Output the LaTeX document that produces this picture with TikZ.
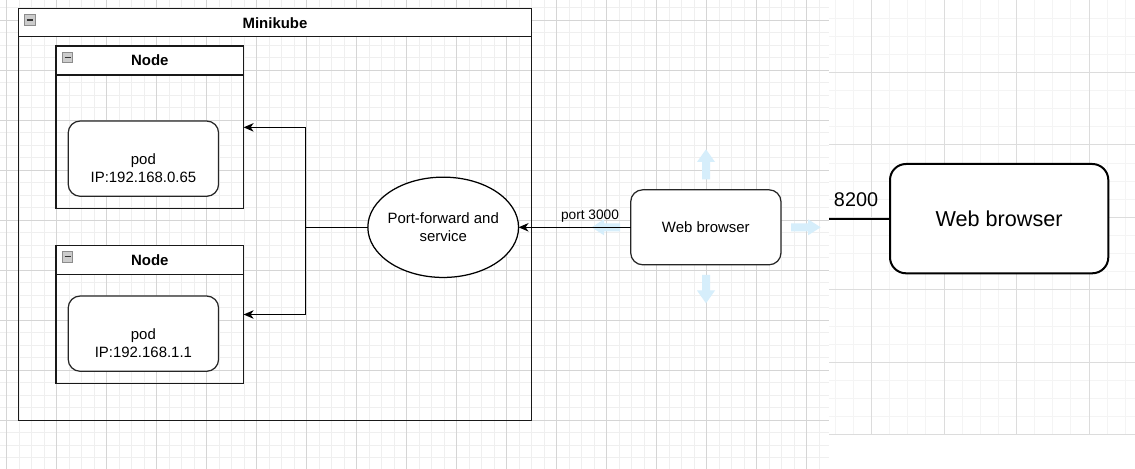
\documentclass[tikz,border=0pt]{standalone}
\usepackage{fontspec}
\setmainfont{Liberation Sans}
\usetikzlibrary{arrows.meta,shapes.geometric}
\definecolor{minorgrid}{HTML}{EFEFEF}
\definecolor{majorgrid}{HTML}{D5D5D5}
\definecolor{rminorgrid}{HTML}{F4F4F4}
\definecolor{rmajorgrid}{HTML}{DCDCDC}
\definecolor{hoverblue}{HTML}{D6EEFB}
\begin{document}
\begin{tikzpicture}[x=1bp,y=-1bp,
  every node/.style={font=\fontsize{15}{17.5}\selectfont, inner sep=0pt, outer sep=0pt},
  lane/.style={draw=black!90, line width=1.4bp, anchor=north west},
  lanehdr/.style={draw=black!90, fill=white, line width=1.4bp, anchor=north west, font=\fontsize{15}{17.5}\selectfont\bfseries},
  podbox/.style={draw=black!85, fill=white, rounded corners=12bp, line width=1.25bp, anchor=north west},
  wbsmall/.style={draw=black!85, fill=white, rounded corners=12bp, line width=1.25bp},
  wbbig/.style={draw=black, fill=white, rounded corners=16bp, line width=2bp, font=\fontsize{21.7}{25}\selectfont},
  conn/.style={draw=black, line width=1.2bp, -{Stealth[length=10bp,width=8.5bp,inset=3bp]}},
  hover/.style={fill=hoverblue, draw=none},
  icon/.style={draw=black!45, fill=black!20, line width=0.8bp},
]
\useasboundingbox (0,0) rectangle (1135,469);
\fill[white] (0,0) rectangle (1135,469);
% left grid
\draw[minorgrid, line width=1bp] \foreach \i in {0,...,65} {(6.7+12.5*\i,0) -- (6.7+12.5*\i,469)};
\draw[minorgrid, line width=1bp] \foreach \i in {0,...,36} {(0,7.8+12.5*\i) -- (829,7.8+12.5*\i)};
\draw[majorgrid, line width=1bp] \foreach \i in {0,...,16} {(6.7+50*\i,0) -- (6.7+50*\i,469)};
\draw[majorgrid, line width=1bp] \foreach \i in {0,...,8} {(0,20.3+50*\i) -- (829,20.3+50*\i)};
% right grid
\fill[white] (829,0) rectangle (1135,469);
\draw[rminorgrid, line width=1bp] \foreach \i in {-2,...,14} {(871.5+18.125*\i,0) -- (871.5+18.125*\i,435.5)};
\draw[rminorgrid, line width=1bp] \foreach \i in {0,...,24} {(829,18.125*\i) -- (1135,18.125*\i)};
\draw[rmajorgrid, line width=1bp] \foreach \i in {0,...,3} {(871.5+72.5*\i,0) -- (871.5+72.5*\i,435.5)};
\draw[rmajorgrid, line width=1bp] \foreach \i in {0,...,6} {(829,72.5*\i) -- (1135,72.5*\i)};

% Minikube container
\node[lane, minimum width=512.8bp, minimum height=412bp] (mk) at (18.6,8.7) {};
\node[lanehdr, minimum width=512.8bp, minimum height=28bp] (mkh) at (18.6,8.7) {Minikube};
\draw[icon] (24,14) rectangle (35.7,25.7);
\draw[black!80, line width=1.4bp] (26.5,19.9) -- (33.2,19.9);

% Node 1
\node[lane, fill=none, minimum width=187.6bp, minimum height=162.7bp] (n1) at (56,46) {};
\node[lanehdr, minimum width=187.6bp, minimum height=29bp] (n1h) at (56,46) {Node};
\draw[icon] (62.3,52.3) rectangle (72.7,62.7);
\draw[black!80, line width=1.4bp] (64.5,57.5) -- (70.5,57.5);
\node[podbox, minimum width=150.4bp, minimum height=75.3bp] (pod1) at (68.2,121) {};
\node[align=center] (pod1t) at ([yshift=-9.3bp]pod1.center) {pod\\IP:192.168.0.65};

% Node 2
\node[lane, fill=none, minimum width=187.6bp, minimum height=138.4bp] (n2) at (56,245.3) {};
\node[lanehdr, minimum width=187.6bp, minimum height=29bp] (n2h) at (56,245.3) {Node};
\draw[icon] (62.3,251.6) rectangle (72.7,262);
\draw[black!80, line width=1.4bp] (64.5,256.8) -- (70.5,256.8);
\node[podbox, minimum width=150.4bp, minimum height=75.3bp] (pod2) at (68.2,296) {};
\node[align=center] (pod2t) at ([yshift=-9.3bp]pod2.center) {pod\\IP:192.168.1.1};

% Port-forward ellipse
\node[ellipse, draw=black, fill=white, line width=1.25bp, minimum width=150.7bp, minimum height=100.3bp] (ell) at (443.2,227.3) {};
\node[align=center, font=\fontsize{15}{18.3}\selectfont] (ellt) at (ell.center) {Port-forward and\\service};

% hover arrows around small web browser
\fill[hover] (706,149.3) -- (715,162) -- (710,162) -- (710,179.3) -- (702,179.3) -- (702,162) -- (697,162) -- cycle;
\fill[hover] (706,303.3) -- (715,290.5) -- (710,290.5) -- (710,275) -- (702,275) -- (702,290.5) -- (697,290.5) -- cycle;
\fill[hover] (591.7,227.3) -- (604,219.3) -- (604,223.3) -- (620,223.3) -- (620,231.3) -- (604,231.3) -- (604,235.3) -- cycle;
\fill[hover] (820.7,227.3) -- (808,219.3) -- (808,223.3) -- (791,223.3) -- (791,231.3) -- (808,231.3) -- (808,235.3) -- cycle;

% small web browser
\node[wbsmall, minimum width=150.3bp, minimum height=75bp] (wb) at (705.85,227.3) {Web browser};

% big web browser
\node[wbbig, minimum width=218.3bp, minimum height=109.3bp] (big) at (999.15,218.65) {Web browser};

% connectors
\coordinate (j) at (305.5,227.3);
\draw[conn] (ell.west) -- (j) |- (n1.east);
\draw[conn] (ell.west) -- (j) |- (n2.east);
\draw[conn] (wb.west) -- node[pos=.363, anchor=base, yshift=8bp, font=\fontsize{13.75}{16}\selectfont] {port 3000} (ell.east);
\coordinate (free) at (829,218.65);
\draw[black, line width=2bp] (free) -- node[pos=.443, anchor=base, yshift=12bp, font=\fontsize{19.9}{22}\selectfont] {8200} (big.west);
\end{tikzpicture}
\end{document}
